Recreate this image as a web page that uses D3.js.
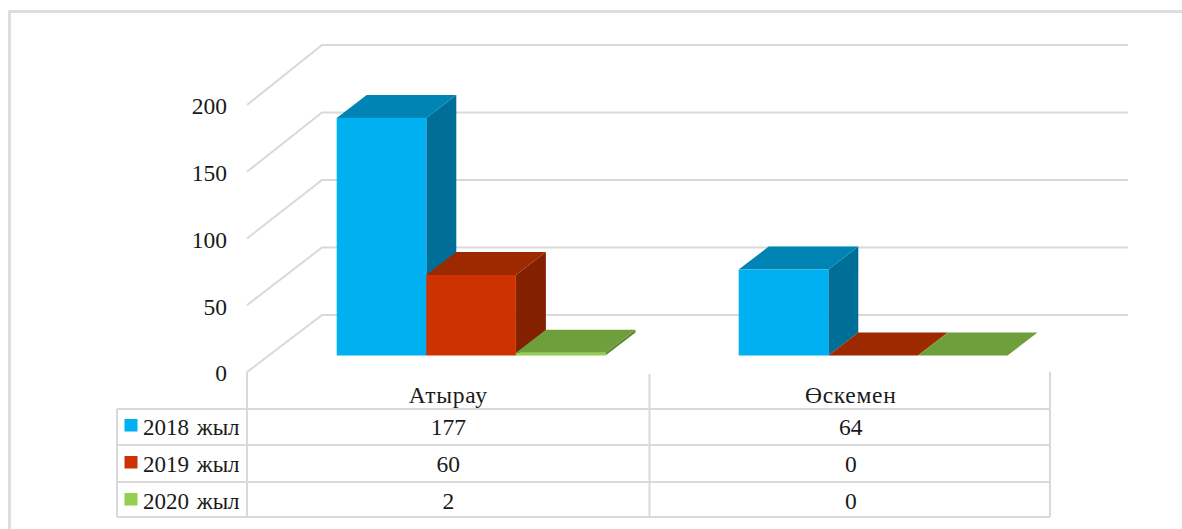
<!DOCTYPE html>
<html>
<head>
<meta charset="utf-8">
<script src="https://cdn.jsdelivr.net/npm/d3@7/dist/d3.min.js"></script>
<style>
  html, body { margin: 0; padding: 0; background: #fff; }
  svg { display: block; }
  text { font-family: "Liberation Serif", serif; font-size: 23.5px; fill: #1a1a1a; }
</style>
</head>
<body>
<svg id="chart" width="1182" height="529"></svg>
<script>
// Incident counts per city and year
const categories = ["Атырау", "Өскемен"];
const seriesNames = ["2018 жыл", "2019 жыл", "2020 жыл"];
const values2018 = [177, 64];
const values2019 = [60, 0];
const values2020 = [2, 0];
const yTicks = [0, 50, 100, 150, 200];

const faceFront = ["#00b0f0", "#cc3300", "#92d050"];
const faceTop = ["#0084b4", "#9c2900", "#6f9e3c"];
const faceSide = ["#006f98", "#832000", "#5c8432"];
const gridColor = "#d9d9d9";

const seriesValues = [values2018, values2019, values2020];
const svg = d3.select("#chart");

// Outer chart frame
svg.append("path")
  .attr("d", "M9.5,529V11.5H1182")
  .attr("fill", "none").attr("stroke", "#dedede").attr("stroke-width", 3);

// Oblique projection: the front and back edges of the floor/wall
const yFront = d3.scaleLinear().domain([0, 200]).range([372, 105]);
const yBack = d3.scaleLinear().domain([0, 200]).range([315, 45]);
const yBar = d3.scaleLinear().domain([0, 200]).range([355.5, 87]);
const depthX = 30, depthY = -23;

const wallLeft = 247, wallBack = 322, wallRight = 1128;

// Gridlines run along the side wall and then across the back wall
svg.append("g").selectAll("path").data(yTicks).join("path")
  .attr("d", t => `M${wallLeft},${yFront(t)}L${wallBack},${yBack(t)}H${wallRight}`)
  .attr("fill", "none").attr("stroke", gridColor).attr("stroke-width", 2);

// Value axis labels
const axis = d3.axisLeft(yFront).tickValues(yTicks).tickSize(0).tickPadding(0);
const axisG = svg.append("g").attr("transform", "translate(227,0)").call(axis);
axisG.select(".domain").remove();
axisG.selectAll("text").attr("style", "font-family:'Liberation Serif',serif;font-size:23.5px").attr("dy", "0.38em");

// Clustered bars
const x0 = d3.scaleBand().domain(categories).range([270, 1074]);
const x1 = d3.scaleBand().domain(seriesNames).range([66.7, 335.5]);

const bars = [];
categories.forEach((cat, c) => {
  seriesNames.forEach((name, s) => {
    bars.push({ cat, name, s, value: seriesValues[s][c] });
  });
});

const barG = svg.append("g").selectAll("g").data(bars).join("g");
barG.each(function (d) {
  const g = d3.select(this);
  const x = x0(d.cat) + x1(d.name);
  const w = x1.bandwidth();
  const top = yBar(d.value);
  const base = yBar(0);
  // side face
  g.append("path")
    .attr("d", `M${x + w},${top}l${depthX},${depthY}V${base + depthY}L${x + w},${base}Z`)
    .attr("fill", faceSide[d.s]);
  // top face
  g.append("path")
    .attr("d", `M${x},${top}l${depthX},${depthY}h${w}l${-depthX},${-depthY}Z`)
    .attr("fill", faceTop[d.s]);
  // front face
  g.append("rect")
    .attr("x", x).attr("y", top).attr("width", w).attr("height", base - top)
    .attr("fill", faceFront[d.s]);
});

// Data table under the plot
const colX = d3.scaleBand().domain(categories).range([247, 1052]);
const rowEdges = [409, 445, 482, 517];
const tableLeft = 117, tableRight = 1050;
const rowY = d3.scaleBand().domain(seriesNames).range([409, 520]);

const table = svg.append("g").attr("fill", "none").attr("stroke", gridColor).attr("stroke-width", 2);
rowEdges.forEach(y => table.append("line")
  .attr("x1", tableLeft).attr("x2", tableRight).attr("y1", y).attr("y2", y));
table.append("line").attr("x1", tableLeft).attr("x2", tableLeft).attr("y1", 409).attr("y2", 517);
table.append("line").attr("x1", wallLeft).attr("x2", wallLeft).attr("y1", yFront(0)).attr("y2", 517);
table.append("line").attr("x1", colX(categories[1])).attr("x2", colX(categories[1])).attr("y1", 374).attr("y2", 517);
table.append("line").attr("x1", tableRight).attr("x2", tableRight).attr("y1", 372).attr("y2", 517);

// Category headers
svg.append("g").selectAll("text").data(categories).join("text")
  .attr("x", d => colX(d) + colX.bandwidth() / 2)
  .attr("y", 403)
  .attr("text-anchor", "middle")
  .attr("letter-spacing", "0.7px")
  .text(d => d);

// Legend keys and row labels
const rows = svg.append("g").selectAll("g").data(seriesNames).join("g");
rows.append("rect")
  .attr("x", 124.5).attr("width", 13).attr("height", 12.5)
  .attr("y", d => rowY(d) + rowY.bandwidth() / 2 - 8.5)
  .attr("fill", (d, i) => faceFront[i]);
rows.append("text")
  .attr("x", 143)
  .attr("y", d => rowY(d) + rowY.bandwidth() / 2 + 7)
  .attr("font-size", "23px")
  .attr("style", "font-size:23px;word-spacing:2px")
  .text(d => d);

// Table values
rows.each(function (name, s) {
  d3.select(this).selectAll(".cell").data(seriesValues[s]).join("text")
    .attr("class", "cell")
    .attr("x", (v, c) => colX(categories[c]) + colX.bandwidth() / 2)
    .attr("y", rowY(name) + rowY.bandwidth() / 2 + 7)
    .attr("text-anchor", "middle")
    .text(v => v);
});
</script>
</body>
</html>
